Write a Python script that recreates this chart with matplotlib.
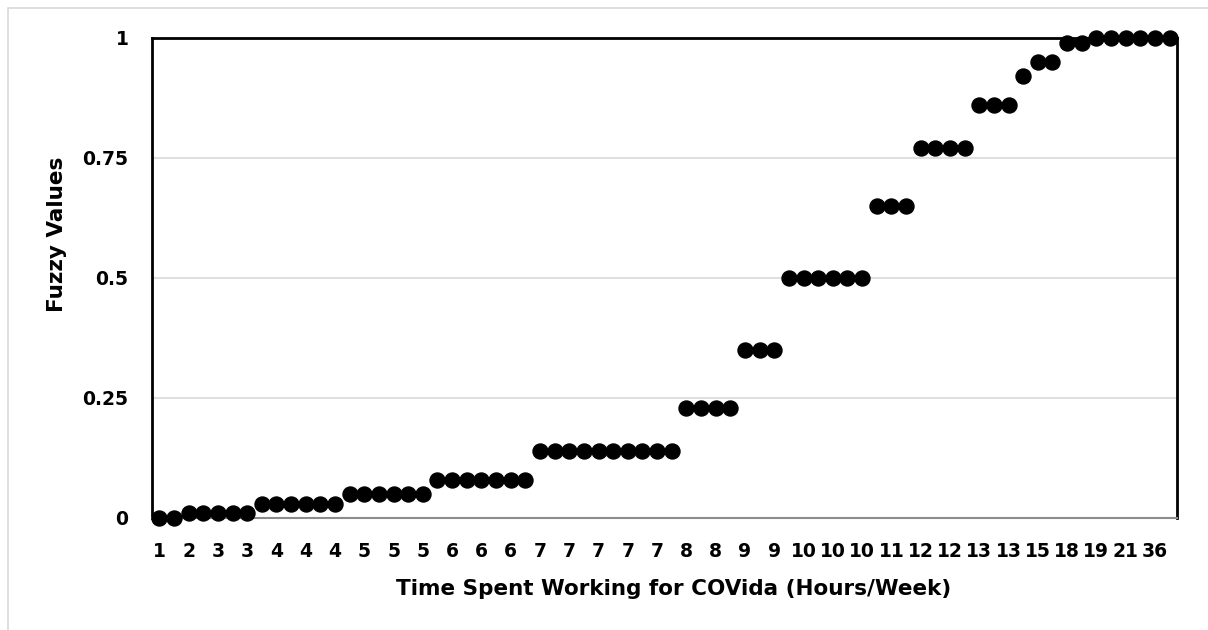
import matplotlib
matplotlib.use("Agg")
import matplotlib.pyplot as plt
from matplotlib.patches import Rectangle

# hours worked per week, one entry per respondent (sorted)
hours = ["1", "1", "2", "3", "3", "3", "3", "4", "4", "4", "4", "4", "4",
         "5", "5", "5", "5", "5", "5", "6", "6", "6", "6", "6", "6", "6",
         "7", "7", "7", "7", "7", "7", "7", "7", "7", "7",
         "8", "8", "8", "8", "9", "9", "9",
         "10", "10", "10", "10", "10", "10", "11", "11", "11",
         "12", "12", "12", "12", "13", "13", "13", "14", "15", "15",
         "18", "18", "19", "20", "21", "24", "36", "40"]

# fuzzy membership value for each respondent
fuzzy = [0, 0,
         0.01, 0.01, 0.01, 0.01, 0.01,
         0.03, 0.03, 0.03, 0.03, 0.03, 0.03,
         0.05, 0.05, 0.05, 0.05, 0.05, 0.05,
         0.08, 0.08, 0.08, 0.08, 0.08, 0.08, 0.08,
         0.14, 0.14, 0.14, 0.14, 0.14, 0.14, 0.14, 0.14, 0.14, 0.14,
         0.23, 0.23, 0.23, 0.23,
         0.35, 0.35, 0.35,
         0.5, 0.5, 0.5, 0.5, 0.5, 0.5,
         0.65, 0.65, 0.65,
         0.77, 0.77, 0.77, 0.77,
         0.86, 0.86, 0.86,
         0.92, 0.95, 0.95, 0.99, 0.99,
         1, 1, 1, 1, 1, 1]

yticks = [0, 0.25, 0.5, 0.75, 1]
ytick_labels = ["0", "0.25", "0.5", "0.75", "1"]

plt.rcParams["font.family"] = ["DejaVu Sans"]
plt.rcParams["font.weight"] = "bold"

fig = plt.figure(figsize=(12.08, 6.3), dpi=100)
ax = fig.add_axes([0.1258, 0.1778, 0.8485, 0.7619])

# outer chart frame
fig.patches.append(Rectangle((8 / 1208, -0.1), 1.2, (630 - 8) / 630 + 0.1,
                             transform=fig.transFigure, fill=False,
                             edgecolor="#d9d9d9", linewidth=1.2))

x = list(range(len(fuzzy)))
ax.plot(x, fuzzy, linestyle="none", marker="o", markersize=10.8,
        color="black", clip_on=False, zorder=3)

ax.set_xlim(-0.5, len(fuzzy) - 0.5)
ax.set_ylim(0, 1)
ax.set_yticks(yticks)
ax.set_yticklabels(ytick_labels)
ax.set_xticks(x[::2])
ax.set_xticklabels(hours[::2])
ax.tick_params(axis="both", length=0, labelsize=13.5)
ax.tick_params(axis="x", pad=17)
ax.tick_params(axis="y", pad=17)

ax.grid(axis="y", color="#d9d9d9", linewidth=1.2)
ax.set_axisbelow(True)
for side in ("left", "top", "right"):
    ax.spines[side].set_color("black")
    ax.spines[side].set_linewidth(2)
ax.spines["bottom"].set_color("#8c8c8c")
ax.spines["bottom"].set_linewidth(1.5)

ax.set_xlabel("Time Spent Working for COVida (Hours/Week)", fontsize=15.5,
              fontweight="bold")
ax.set_ylabel("Fuzzy Values", fontsize=15.5, fontweight="bold")
ax.xaxis.set_label_coords(0.509, -0.128)
ax.yaxis.set_label_coords(-0.083, 0.59)

fig.savefig("out.png", dpi=100)
